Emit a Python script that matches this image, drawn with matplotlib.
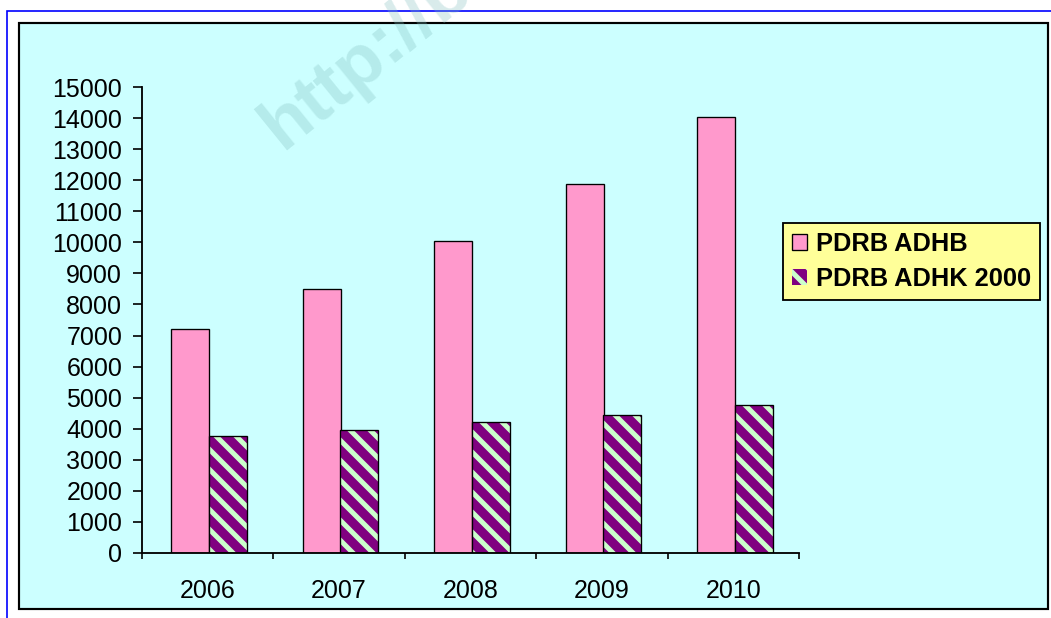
import matplotlib
matplotlib.use('Agg')
import matplotlib.pyplot as plt
from matplotlib.patches import Rectangle
import numpy as np

# data
years = ['2006', '2007', '2008', '2009', '2010']
pdrb_adhb = [7200, 8500, 10050, 11870, 14030]
pdrb_adhk = [3750, 3970, 4200, 4450, 4760]

plt.rcParams['font.family'] = ['Liberation Sans', 'DejaVu Sans']
plt.rcParams['hatch.linewidth'] = 3.0

W, H = 1051, 618
DPI = 120
fig = plt.figure(figsize=(W / DPI, H / DPI), dpi=DPI)

# outer blue frame and the chart area box (behind the axes)
fig.patches.append(Rectangle((7 / W, -0.1), 1.2, 1 - 11 / H + 0.1, transform=fig.transFigure,
                             facecolor='white', edgecolor='#0000FF', lw=1.0, zorder=-3))
fig.patches.append(Rectangle((19 / W, 1 - 609 / H), (1048 - 19) / W, (609 - 23) / H,
                             transform=fig.transFigure, facecolor='#CCFFFF',
                             edgecolor='black', lw=1.3, zorder=-2))

ax = fig.add_axes([141.7 / W, 1 - 552.7 / H, 657.3 / W, 465.4 / H])
ax.set_facecolor('none')

x = np.arange(len(years))
bw = 0.29
ax.bar(x - 0.13, pdrb_adhb, bw, color='#FF99CC', edgecolor='black', lw=0.8,
       label='PDRB ADHB', zorder=2)
ax.bar(x + 0.155, pdrb_adhk, bw, color='#800080', edgecolor='#CCFFCC', hatch='\\\\',
       lw=0, label='PDRB ADHK 2000', zorder=2)
ax.bar(x + 0.155, pdrb_adhk, bw, fill=False, edgecolor='black', lw=0.8, zorder=3)

ax.set_xlim(-0.5, len(years) - 0.5)
ax.set_ylim(0, 15000)
ax.set_yticks(np.arange(0, 15001, 1000))
ax.tick_params(axis='y', direction='out', length=5.2, width=1.0, pad=6.5, labelsize=15)
ax.set_xticks(np.arange(-0.5, len(years), 1.0))
ax.set_xticklabels([])
ax.set_xticks(x, minor=True)
ax.set_xticklabels(years, minor=True)
ax.tick_params(axis='x', which='major', direction='out', length=3.6, width=1.0)
ax.tick_params(axis='x', which='minor', length=0, pad=16, labelsize=15)

for s in ['top', 'right']:
    ax.spines[s].set_visible(False)
for s in ['left', 'bottom']:
    ax.spines[s].set_linewidth(1.1)

leg = ax.legend(loc='upper left', bbox_to_anchor=(783 / W, 1 - 223 / H),
                bbox_transform=fig.transFigure, borderaxespad=0, fancybox=False,
                framealpha=1, facecolor='#FFFF99', edgecolor='black',
                prop={'weight': 'bold', 'size': 15.2},
                handlelength=0.6, handleheight=0.6, handletextpad=0.35,
                borderpad=0.35, labelspacing=0.45)
leg.get_frame().set_linewidth(1.1)

# faint watermark
fig.text(282 / W, 1 - 150 / H, 'http://b', rotation=39, rotation_mode='anchor',
         ha='left', va='baseline', fontsize=44, fontweight='bold',
         color=(0.5, 0.75, 0.75), alpha=0.3, zorder=10)

fig.savefig('out.png', dpi=DPI)
